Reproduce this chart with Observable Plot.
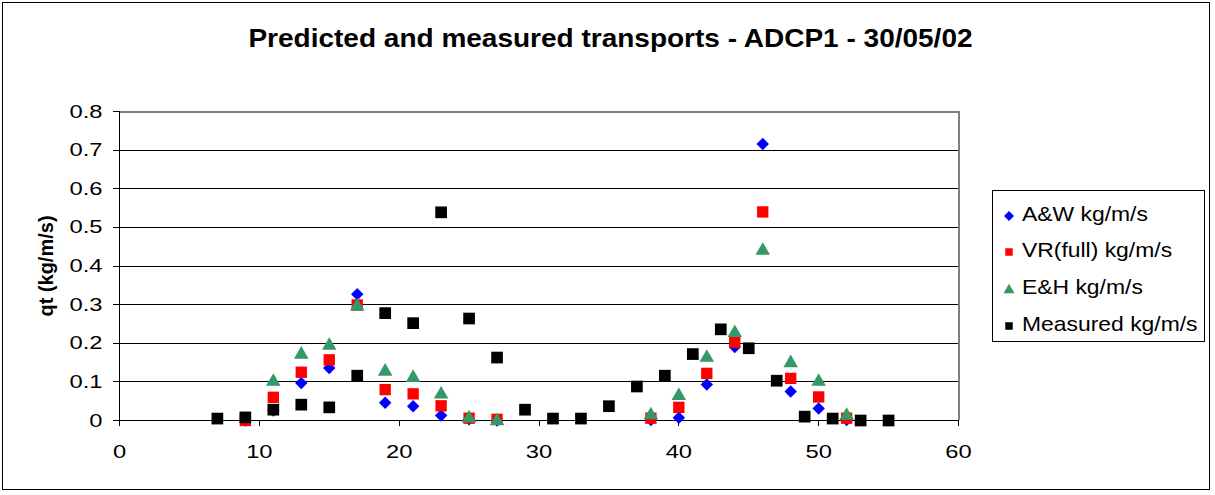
<!DOCTYPE html>
<html>
<head>
<meta charset="utf-8">
<script src="https://cdn.jsdelivr.net/npm/d3@7"></script>
<script src="https://cdn.jsdelivr.net/npm/@observablehq/plot@0.6"></script>
<style>
  html, body { margin: 0; padding: 0; background: #fff; }
  #chart { position: relative; width: 1215px; height: 495px; overflow: hidden;
           font-family: "Liberation Sans", Arial, sans-serif; color: #000; }
  #frame { position: absolute; left: 2px; top: 2px; width: 1208px; height: 488px;
           border: 1.5px solid #000; box-sizing: border-box; }
  #plot { position: absolute; left: 0; top: 0; }
  #title { position: absolute; left: 3px; top: 24px; width: 1215px; text-align: center;
           font-weight: bold; font-size: 25px; line-height: 28px; transform: scaleX(1.12); }
  #legend { position: absolute; left: 992px; top: 190px; width: 213px; height: 152px;
            border: 1px solid #000; box-sizing: border-box; background: #fff; }
  .row { position: absolute; left: 0; height: 24px; width: 100%; }
  .row svg { position: absolute; left: 8px; top: 4px; }
  .row span { position: absolute; left: 29px; top: 0; font-size: 21px; line-height: 24px;
              white-space: nowrap; transform: scaleX(1.09); transform-origin: left center; }
</style>
</head>
<body>
<div id="chart">
  <div id="frame"></div>
  <div id="plot"></div>
  <div id="title"></div>
  <div id="legend"></div>
</div>
<script>
// Sampling positions of the model predictions and of the ADCP measurements
const predX = [9, 11, 13, 15, 17, 19, 21, 23, 25, 27, 38, 40, 42, 44, 46, 48, 50, 52];
const awValues = [0.0, 0.026, 0.097, 0.136, 0.327, 0.046, 0.037, 0.013, 0.003, 0.0,
                  0.001, 0.007, 0.093, 0.19, 0.716, 0.075, 0.031, 0.001];
const vrValues = [0.0, 0.06, 0.125, 0.157, 0.299, 0.08, 0.069, 0.038, 0.006, 0.003,
                  0.006, 0.034, 0.122, 0.202, 0.54, 0.109, 0.061, 0.006];
const ehValues = [null, 0.106, 0.176, 0.199, 0.301, 0.132, 0.116, 0.073, 0.011, 0.004,
                  0.019, 0.069, 0.168, 0.232, 0.445, 0.154, 0.106, 0.018];

const measX = [7, 9, 11, 13, 15, 17, 19, 21, 23, 25, 27, 29, 31, 33, 35, 37, 39, 41,
               43, 45, 47, 49, 51, 53, 55];
const measuredValues = [0.005, 0.008, 0.028, 0.041, 0.034, 0.116, 0.278, 0.252, 0.539,
                        0.264, 0.163, 0.028, 0.005, 0.005, 0.037, 0.088, 0.116, 0.172,
                        0.236, 0.187, 0.103, 0.01, 0.005, 0.0, 0.0];

const seriesNames = ["A&W kg/m/s", "VR(full) kg/m/s", "E&H kg/m/s", "Measured kg/m/s"];
const seriesColors = ["#0000ff", "#ff0000", "#339966", "#000000"];
const seriesSymbols = ["diamond2", "square", "triangle", "square"];

const xTicks = [0, 10, 20, 30, 40, 50, 60];
const yTicks = [0, 0.1, 0.2, 0.3, 0.4, 0.5, 0.6, 0.7, 0.8];
const titleText = "Predicted and measured transports - ADCP1 - 30/05/02";
const yLabel = "qt (kg/m/s)";

const toRows = (xs, ys) => xs.map((x, i) => ({x, y: ys[i]})).filter(d => d.y != null);
const aw = toRows(predX, awValues);
const vr = toRows(predX, vrValues);
const eh = toRows(predX, ehValues);
const measured = toRows(measX, measuredValues);

const fmt = d3.format("~g");
const crisp = {shapeRendering: "crispEdges"};

const chart = Plot.plot({
  width: 1215,
  height: 495,
  marginLeft: 119,
  marginRight: 257,
  marginTop: 111,
  marginBottom: 75,
  style: {fontFamily: "'Liberation Sans', Arial, sans-serif", fontSize: "19px", color: "#000", background: "transparent"},
  x: {domain: [0, 60], ticks: xTicks, tickSize: 6, tickPadding: 18, tickFormat: fmt, label: null},
  y: {domain: [0, 0.8], ticks: yTicks, tickSize: 6, tickPadding: 11, tickFormat: fmt, label: null},
  marks: [
    // horizontal gridlines
    Plot.ruleY(yTicks.slice(1, -1), {stroke: "#000", strokeWidth: 1, ...crisp}),
    // grey plot-area border on top and right
    Plot.ruleY([0.8], {stroke: "#808080", strokeWidth: 2, ...crisp}),
    Plot.ruleX([60], {stroke: "#808080", strokeWidth: 2, ...crisp}),
    // axis lines
    Plot.ruleX([0], {stroke: "#000", strokeWidth: 1, ...crisp}),
    Plot.ruleY([0], {stroke: "#000", strokeWidth: 1, ...crisp}),
    // series
    Plot.dot(aw, {x: "x", y: "y", symbol: seriesSymbols[0], fill: seriesColors[0], r: 5.6}),
    Plot.dot(vr, {x: "x", y: "y", symbol: seriesSymbols[1], fill: seriesColors[1], r: 6.4}),
    Plot.dot(eh, {x: "x", y: "y", symbol: seriesSymbols[2], fill: seriesColors[2], r: 5.4, dy: 2}),
    Plot.dot(measured, {x: "x", y: "y", symbol: seriesSymbols[3], fill: seriesColors[3], r: 6.6}),
    // rotated y-axis title
    Plot.text([yLabel], {text: d => d, frameAnchor: "left", textAnchor: "middle", rotate: -90, dx: -73,
                         fontWeight: "bold", fontSize: 20})
  ]
});

// widen the tick labels horizontally around their anchor points
chart.querySelectorAll('[aria-label^="x-axis"] text, [aria-label^="y-axis"] text').forEach(t => {
  const tr = t.getAttribute("transform") || "";
  t.setAttribute("transform", (tr + " scale(1.25,1)").trim());
});
chart.querySelectorAll('[aria-label^="x-axis"] line, [aria-label^="y-axis"] line, [aria-label^="x-axis"] path, [aria-label^="y-axis"] path')
  .forEach(l => l.setAttribute("shape-rendering", "crispEdges"));

document.getElementById("plot").appendChild(chart);
document.getElementById("title").textContent = titleText;

// Legend: one row per series with its marker
const legend = d3.select("#legend");
const rowTops = [11, 47, 84, 121];
seriesNames.forEach((name, i) => {
  const row = legend.append("div").attr("class", "row").style("top", rowTops[i] + "px");
  const svg = row.append("svg").attr("width", 16).attr("height", 16);
  const size = seriesSymbols[i] === "triangle" ? 52 : seriesSymbols[i] === "diamond2" ? 64 : 56;
  const sym = {diamond2: d3.symbolDiamond2, square: d3.symbolSquare, triangle: d3.symbolTriangle}[seriesSymbols[i]];
  svg.append("path")
    .attr("transform", `translate(8,${seriesSymbols[i] === "triangle" ? 11 : 10})`)
    .attr("d", d3.symbol(sym, size)())
    .attr("fill", seriesColors[i]);
  row.append("span").text(name);
});
</script>
</body>
</html>
